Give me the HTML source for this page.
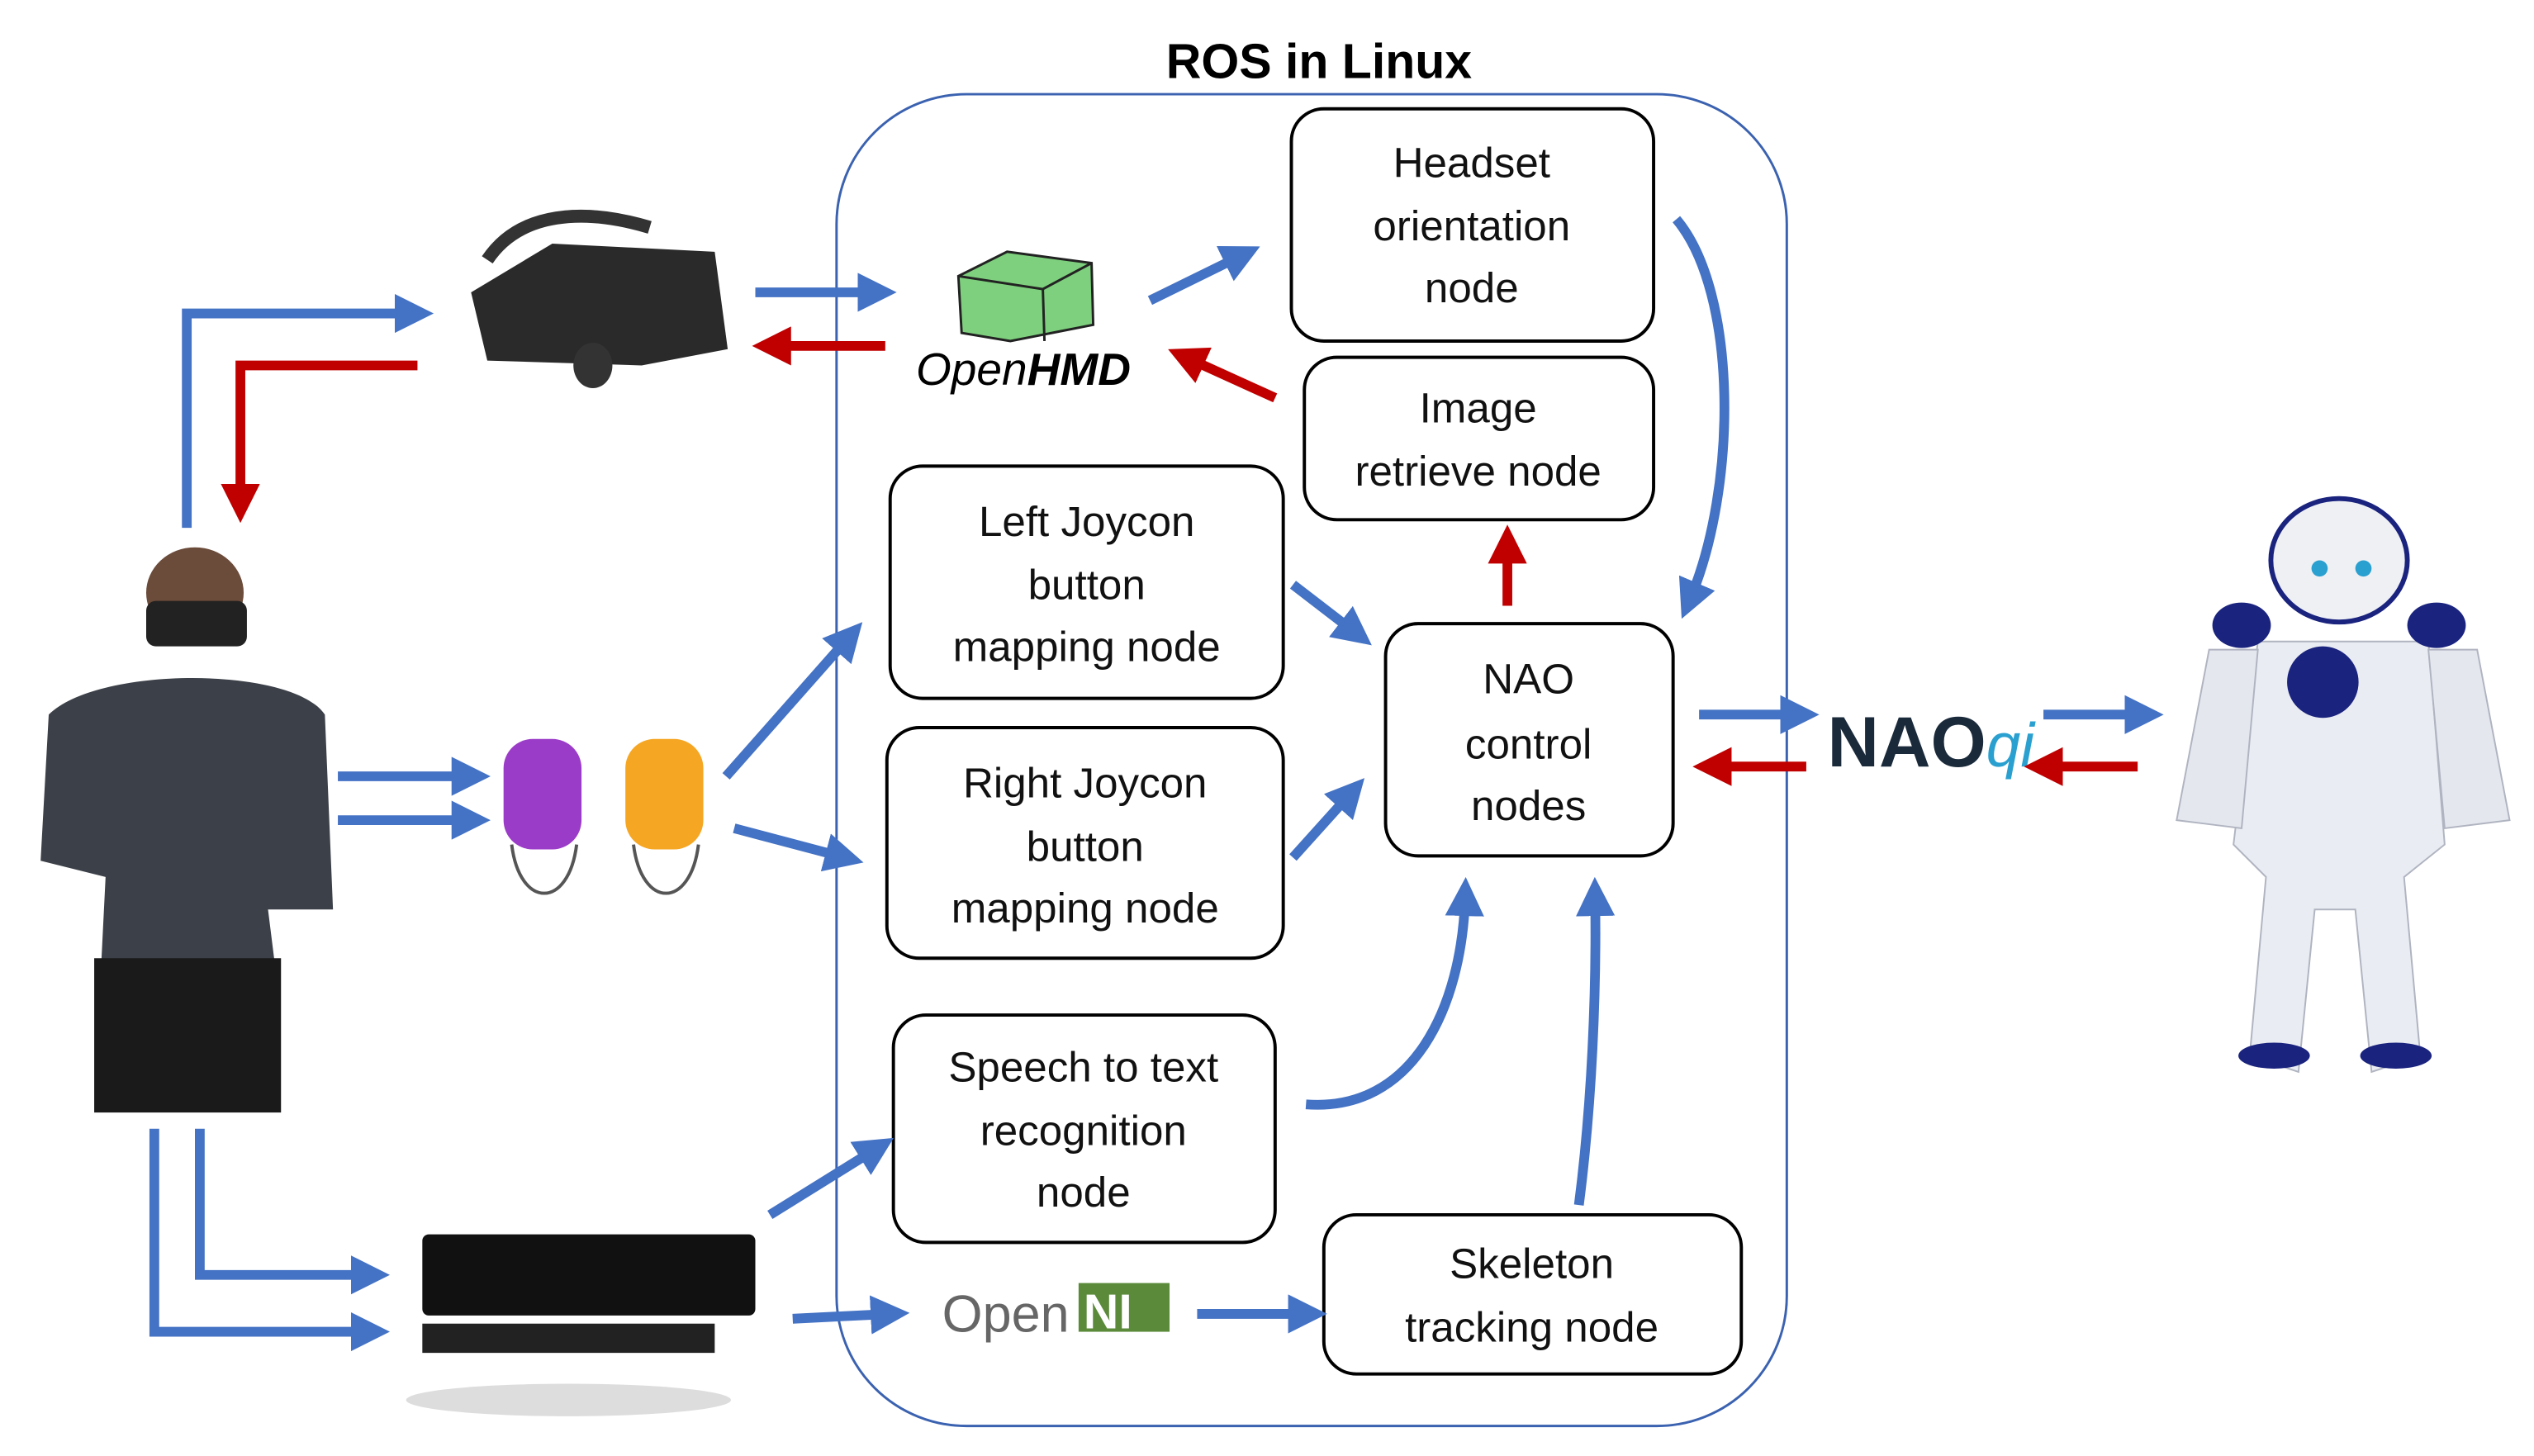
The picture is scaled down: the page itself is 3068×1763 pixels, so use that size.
<!DOCTYPE html>
<html><head><meta charset="utf-8"><style>
html,body{margin:0;padding:0;background:#fff;width:3068px;height:1763px;overflow:hidden}
svg{display:block}
text{font-family:"Liberation Sans",sans-serif;}
</style></head><body>
<svg width="3068" height="1763" viewBox="0 0 1560 896.5" preserveAspectRatio="none" xmlns="http://www.w3.org/2000/svg">
<defs>
<marker id="b" markerWidth="4" markerHeight="4" refX="2" refY="2" orient="auto" markerUnits="strokeWidth"><path d="M0,0 L4,2 L0,4 z" fill="#4472C4"/></marker>
<marker id="r" markerWidth="4" markerHeight="4" refX="2" refY="2" orient="auto" markerUnits="strokeWidth"><path d="M0,0 L4,2 L0,4 z" fill="#C00000"/></marker>
</defs>
<text x="812" y="48" font-size="30" font-weight="bold" text-anchor="middle">ROS in Linux</text>
<rect x="515" y="58" width="585" height="820" rx="80" fill="none" stroke="#3b62b0" stroke-width="1.5"/>
<g fill="#fff" stroke="#000" stroke-width="2">
<rect x="795" y="67" width="223" height="143" rx="20"/>
<rect x="803" y="220" width="215" height="100" rx="20"/>
<rect x="548" y="287" width="242" height="143" rx="20"/>
<rect x="546" y="448" width="244" height="142" rx="20"/>
<rect x="853" y="384" width="177" height="143" rx="20"/>
<rect x="550" y="625" width="235" height="140" rx="20"/>
<rect x="815" y="748" width="257" height="98" rx="20"/>
</g>
<g font-size="26" text-anchor="middle" fill="#111">
<text x="906" y="109">Headset</text><text x="906" y="148">orientation</text><text x="906" y="186">node</text>
<text x="910" y="260">Image</text><text x="910" y="299">retrieve node</text>
<text x="669" y="330">Left Joycon</text><text x="669" y="369">button</text><text x="669" y="407">mapping node</text>
<text x="668" y="491">Right Joycon</text><text x="668" y="530">button</text><text x="668" y="568">mapping node</text>
<text x="941" y="427">NAO</text><text x="941" y="467">control</text><text x="941" y="505">nodes</text>
<text x="667" y="666">Speech to text</text><text x="667" y="705">recognition</text><text x="667" y="743">node</text>
<text x="943" y="787">Skeleton</text><text x="943" y="826">tracking node</text>
</g>
<path d="M590,170 L620,155 L672,162 L673,200 L622,210 L592,205 Z" fill="#7ed07e" stroke="#222" stroke-width="1.5"/>
<path d="M590,170 L642,178 L672,162 M642,178 L643,210" stroke="#222" fill="none" stroke-width="1.5"/>
<text x="630" y="237" font-size="28" font-style="italic" text-anchor="middle" font-family="Liberation Serif,serif">Open<tspan font-weight="bold">HMD</tspan></text>
<text x="580" y="820" font-size="32" fill="#666" font-family="Liberation Serif,serif">Open</text>
<rect x="664" y="790" width="56" height="30" fill="#5a8a3a"/>
<text x="667" y="818" font-size="30" fill="#fff" font-weight="bold">NI</text>
<text x="1125" y="472" font-size="44" font-weight="bold" fill="#1a2a3a">NAO<tspan fill="#2aa0d0" font-style="italic" font-weight="normal" font-size="38">qi</tspan></text>
<g stroke-width="6" fill="none">
<path d="M465,180 L540,180" stroke="#4472C4" marker-end="url(#b)"/>
<path d="M545,213 L475,213" stroke="#C00000" marker-end="url(#r)"/>
<path d="M708,185 L765,157" stroke="#4472C4" marker-end="url(#b)"/>
<path d="M785,245 L730,220" stroke="#C00000" marker-end="url(#r)"/>
<path d="M928,373 L928,335" stroke="#C00000" marker-end="url(#r)"/>
<path d="M1032,135 C1070,180 1070,300 1040,370" stroke="#4472C4" marker-end="url(#b)"/>
<path d="M796,360 L835,390" stroke="#4472C4" marker-end="url(#b)"/>
<path d="M796,528 L832,488" stroke="#4472C4" marker-end="url(#b)"/>
<path d="M447,478 L523,392" stroke="#4472C4" marker-end="url(#b)"/>
<path d="M452,510 L520,528" stroke="#4472C4" marker-end="url(#b)"/>
<path d="M804,680 C870,685 900,620 902,552" stroke="#4472C4" marker-end="url(#b)"/>
<path d="M972,742 C980,680 983,610 982,552" stroke="#4472C4" marker-end="url(#b)"/>
<path d="M474,748 L540,707" stroke="#4472C4" marker-end="url(#b)"/>
<path d="M488,812 L548,809" stroke="#4472C4" marker-end="url(#b)"/>
<path d="M737,809 L805,809" stroke="#4472C4" marker-end="url(#b)"/>
<path d="M1046,440 L1108,440" stroke="#4472C4" marker-end="url(#b)"/>
<path d="M1112,472 L1054,472" stroke="#C00000" marker-end="url(#r)"/>
<path d="M1258,440 L1320,440" stroke="#4472C4" marker-end="url(#b)"/>
<path d="M1316,472 L1258,472" stroke="#C00000" marker-end="url(#r)"/>
<path d="M115,325 L115,193 L255,193" stroke="#4472C4" marker-end="url(#b)"/>
<path d="M257,225 L148,225 L148,310" stroke="#C00000" marker-end="url(#r)"/>
<path d="M208,478 L290,478" stroke="#4472C4" marker-end="url(#b)"/>
<path d="M208,505 L290,505" stroke="#4472C4" marker-end="url(#b)"/>
<path d="M123,695 L123,785 L228,785" stroke="#4472C4" marker-end="url(#b)"/>
<path d="M95,695 L95,820 L228,820" stroke="#4472C4" marker-end="url(#b)"/>
</g>
<path d="M300,160 C320,130 360,128 400,140" stroke="#333" stroke-width="8" fill="none"/>
<path d="M290,180 L340,150 L440,155 L448,215 L395,225 L300,222 Z" fill="#2a2a2a"/>
<ellipse cx="365" cy="225" rx="12" ry="14" fill="#333"/>
<ellipse cx="120" cy="365" rx="30" ry="28" fill="#6b4b3a"/>
<rect x="90" y="370" width="62" height="28" rx="6" fill="#222"/>
<path d="M30,440 C60,410 180,410 200,440 L205,560 L165,560 L170,600 L62,600 L65,540 L25,530 Z" fill="#3c4048"/>
<rect x="58" y="590" width="115" height="95" fill="#1a1a1a"/>
<rect x="310" y="455" width="48" height="68" rx="18" fill="#9b3cc8"/>
<rect x="385" y="455" width="48" height="68" rx="18" fill="#f5a623"/>
<path d="M315,520 C320,560 350,560 355,520 M390,520 C395,560 425,560 430,520" stroke="#555" stroke-width="2" fill="none"/>
<rect x="260" y="760" width="205" height="50" rx="4" fill="#111"/>
<rect x="260" y="815" width="180" height="18" fill="#222"/>
<ellipse cx="350" cy="862" rx="100" ry="10" fill="#ddd"/>
<ellipse cx="1440" cy="345" rx="42" ry="38" fill="#eef0f4" stroke="#1a237e" stroke-width="3"/>
<circle cx="1428" cy="350" r="5" fill="#2aa0d0"/><circle cx="1455" cy="350" r="5" fill="#2aa0d0"/>
<path d="M1390,395 L1495,395 L1505,520 L1480,540 L1490,650 L1460,660 L1450,560 L1425,560 L1415,660 L1385,650 L1395,540 L1375,520 Z" fill="#e9ecf2" stroke="#b0b4c0"/>
<path d="M1360,400 L1390,400 L1380,510 L1340,505 Z M1495,400 L1525,400 L1545,505 L1505,510 Z" fill="#e4e7ee" stroke="#b0b4c0"/>
<circle cx="1430" cy="420" r="22" fill="#1a237e"/>
<ellipse cx="1380" cy="385" rx="18" ry="14" fill="#1a237e"/>
<ellipse cx="1500" cy="385" rx="18" ry="14" fill="#1a237e"/>
<ellipse cx="1400" cy="650" rx="22" ry="8" fill="#1a237e"/>
<ellipse cx="1475" cy="650" rx="22" ry="8" fill="#1a237e"/>
</svg>
</body></html>
